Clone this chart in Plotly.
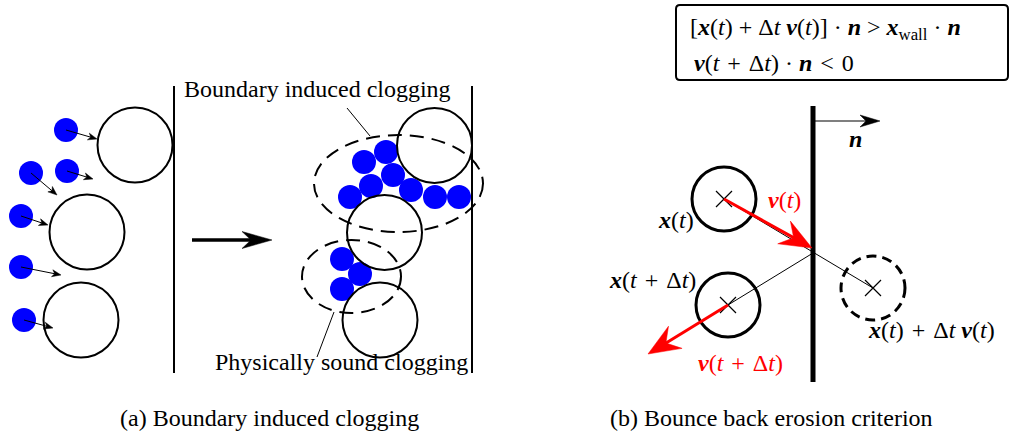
import math
import plotly.graph_objects as go

# ---------------- panel (a): boundary induced clogging ----------------
wall_a_x = [174, 472]
wall_a_y = [86, 373]
grain_r = 37.5
part_r = 12
before_grain_x = [135, 87, 81]
before_grain_y = [145, 232, 320]
before_part_x = [66, 31, 67, 21, 21, 24]
before_part_y = [130, 173, 171, 216, 267, 320]
before_vel_x1 = [97, 57, 93, 48, 61, 53]
before_vel_y1 = [139, 195, 179, 225, 275, 328]
after_grain_x = [434.5, 384.5, 380]
after_grain_y = [145.5, 232.5, 320]
after_part_x = [364, 386, 393, 371, 350, 411, 435, 459, 342, 360, 342]
after_part_y = [162, 152, 175, 186, 197, 190, 197, 197, 259, 274, 289]
clog_cx = [398.5, 351.5]
clog_cy = [183.5, 276.5]
clog_rx = [84.5, 49.5]
clog_ry = [48.5, 36.5]
big_arrow_x = [192, 272]
big_arrow_y = [240, 240]
leader_x = [[347, 370], [334, 317]]
leader_y = [[108, 136], [312, 357]]
label_a_text = ["Boundary induced clogging", "Physically sound clogging"]
label_a_x = [317.5, 341.5]
label_a_y = [89, 362]

# ---------------- panel (b): bounce back erosion criterion ----------------
wall_b_x = 813
wall_b_y = [106, 382]
normal_x = [813, 880]
normal_y = [121, 121]
ball_r = 32
ball_x = [724, 728]          # x(t), x(t+dt)
ball_y = [199, 305]
pred_x = 873                 # x(t) + dt v(t)
pred_y = 288
hit_x = 813
hit_y = 253
vel_tip_x = [812, 648]       # v(t), v(t+dt)
vel_tip_y = [248, 354]

captions = ["(a) Boundary induced clogging", "(b) Bounce back erosion criterion"]
caption_x = [269, 771]
caption_y = [418, 418]

FONT = "Liberation Serif"
FS = 24
SP = "\u2004"
B = lambda s: "<b><i>%s</i></b>" % s
I = lambda s: "<i>%s</i>" % s

fig = go.Figure()
shapes = []
annotations = []


def add_arrow(x0, y0, x1, y1, color, width, L, W, inset):
    d = math.hypot(x1 - x0, y1 - y0)
    ux, uy = (x1 - x0) / d, (y1 - y0) / d
    nx, ny = -uy, ux
    bx, by = x1 - L * ux, y1 - L * uy
    mx, my = x1 - (L - inset) * ux, y1 - (L - inset) * uy
    shapes.append(dict(type="line", x0=x0, y0=y0, x1=mx + 0.3 * ux, y1=my + 0.3 * uy,
                       line=dict(color=color, width=width)))
    path = "M %.2f %.2f L %.2f %.2f L %.2f %.2f L %.2f %.2f Z" % (
        x1, y1, bx + W * nx, by + W * ny, mx, my, bx - W * nx, by - W * ny)
    shapes.append(dict(type="path", path=path, fillcolor=color,
                       line=dict(color=color, width=0.5)))


# walls panel (a)
for wx in wall_a_x:
    shapes.append(dict(type="line", x0=wx, x1=wx, y0=wall_a_y[0], y1=wall_a_y[1],
                       line=dict(color="black", width=2)))

# grains
for gx, gy in list(zip(before_grain_x, before_grain_y)) + list(zip(after_grain_x, after_grain_y)):
    shapes.append(dict(type="circle", x0=gx - grain_r, x1=gx + grain_r,
                       y0=gy - grain_r, y1=gy + grain_r,
                       line=dict(color="black", width=2)))

# clogging ellipses
for cx, cy, rx, ry in zip(clog_cx, clog_cy, clog_rx, clog_ry):
    shapes.append(dict(type="circle", x0=cx - rx, x1=cx + rx, y0=cy - ry, y1=cy + ry,
                       line=dict(color="black", width=2, dash="14px,8px")))

# leader lines
for lx, ly in zip(leader_x, leader_y):
    shapes.append(dict(type="line", x0=lx[0], y0=ly[0], x1=lx[1], y1=ly[1],
                       line=dict(color="black", width=1)))

# particles
fig.add_trace(go.Scatter(x=before_part_x + after_part_x, y=before_part_y + after_part_y,
                         mode="markers", hoverinfo="skip",
                         marker=dict(size=2 * part_r, color="#0000ff", line=dict(width=0))))

# velocity arrows
for px, py, qx, qy in zip(before_part_x, before_part_y, before_vel_x1, before_vel_y1):
    add_arrow(px, py, qx, qy, "black", 1, 9, 3.5, 2.5)

add_arrow(big_arrow_x[0], big_arrow_y[0], big_arrow_x[1], big_arrow_y[1], "black", 3.5, 30, 8.5, 9)

for t, x, y in zip(label_a_text, label_a_x, label_a_y):
    annotations.append(dict(x=x, y=y, text=t, showarrow=False, xanchor="center", yanchor="middle",
                            font=dict(family=FONT, size=FS, color="black")))

# ---------------- panel (b) ----------------
# criterion box
bx0, bx1, by0, by1, rr = 676, 1008, 5, 80, 4
box_path = ("M %g %g L %g %g Q %g %g %g %g L %g %g Q %g %g %g %g L %g %g Q %g %g %g %g "
            "L %g %g Q %g %g %g %g Z") % (
    bx0 + rr, by0, bx1 - rr, by0, bx1, by0, bx1, by0 + rr,
    bx1, by1 - rr, bx1, by1, bx1 - rr, by1,
    bx0 + rr, by1, bx0, by1, bx0, by1 - rr,
    bx0, by0 + rr, bx0, by0, bx0 + rr, by0)
shapes.append(dict(type="path", path=box_path, line=dict(color="black", width=2)))

line1 = "[%s(%s) + Δ%s %s(%s)] · %s &gt; %s<sub>wall</sub> · %s" % (
    B("x"), I("t"), I("t"), B("v"), I("t"), B("n"), B("x"), B("n"))
line2 = "%s(%s%s+%sΔ%s) · %s%s&lt;%s0" % (B("v"), I("t"), SP, SP, I("t"), B("n"), SP, SP)
annotations.append(dict(x=688, y=29, text=line1, showarrow=False, xanchor="left", yanchor="middle",
                        font=dict(family=FONT, size=FS, color="black")))
annotations.append(dict(x=692, y=63, text=line2, showarrow=False, xanchor="left", yanchor="middle",
                        font=dict(family=FONT, size=FS, color="black")))

# trajectory thin lines
shapes.append(dict(type="line", x0=ball_x[0], y0=ball_y[0], x1=pred_x, y1=pred_y,
                   line=dict(color="black", width=1)))
shapes.append(dict(type="line", x0=hit_x, y0=hit_y, x1=ball_x[1], y1=ball_y[1],
                   line=dict(color="black", width=1)))

# wall
shapes.append(dict(type="line", x0=wall_b_x, x1=wall_b_x, y0=wall_b_y[0], y1=wall_b_y[1],
                   line=dict(color="black", width=5)))
add_arrow(normal_x[0], normal_y[0], normal_x[1], normal_y[1], "black", 1.2, 20, 6, 6)

# balls
for cx, cy in zip(ball_x, ball_y):
    shapes.append(dict(type="circle", x0=cx - ball_r, x1=cx + ball_r, y0=cy - ball_r, y1=cy + ball_r,
                       line=dict(color="black", width=3)))
shapes.append(dict(type="circle", x0=pred_x - ball_r, x1=pred_x + ball_r,
                   y0=pred_y - ball_r, y1=pred_y + ball_r,
                   line=dict(color="black", width=3, dash="10px,6px")))

# red velocity arrows
for cx, cy, tx, ty in zip(ball_x, ball_y, vel_tip_x, vel_tip_y):
    add_arrow(cx, cy, tx, ty, "red", 3, 32, 13, 11)

# centre crosses
fig.add_trace(go.Scatter(x=ball_x + [pred_x], y=ball_y + [pred_y], mode="markers", hoverinfo="skip",
                         marker=dict(symbol="x-thin", size=16, line=dict(color="black", width=1.2))))

labels_b = [
    (B("n"), 855, 139, "black"),
    ("%s(%s)" % (B("x"), I("t")), 676, 220, "black"),
    ("%s(%s)" % (B("v"), I("t")), 784, 200, "red"),
    ("%s(%s%s+%sΔ%s)" % (B("x"), I("t"), SP, SP, I("t")), 652, 280, "black"),
    ("%s(%s%s+%sΔ%s)" % (B("v"), I("t"), SP, SP, I("t")), 740, 363, "red"),
    ("%s(%s)%s+%sΔ%s %s(%s)" % (B("x"), I("t"), SP, SP, I("t"), B("v"), I("t")), 931, 330, "black"),
]
for t, x, y, c in labels_b:
    annotations.append(dict(x=x, y=y, text=t, showarrow=False, xanchor="center", yanchor="middle",
                            font=dict(family=FONT, size=FS, color=c)))

for t, x, y in zip(captions, caption_x, caption_y):
    annotations.append(dict(x=x, y=y, text=t, showarrow=False, xanchor="center", yanchor="middle",
                            font=dict(family=FONT, size=FS, color="black")))

fig.update_layout(
    width=1010, height=435,
    margin=dict(l=0, r=0, t=0, b=0),
    paper_bgcolor="white", plot_bgcolor="white",
    showlegend=False,
    shapes=shapes, annotations=annotations,
    xaxis=dict(range=[0, 1010], visible=False, fixedrange=True),
    yaxis=dict(range=[435, 0], visible=False, fixedrange=True),
)

fig.write_html("out.html", config={"displayModeBar": False},
               post_script="document.body.style.margin='0';document.body.style.overflow='hidden';")
